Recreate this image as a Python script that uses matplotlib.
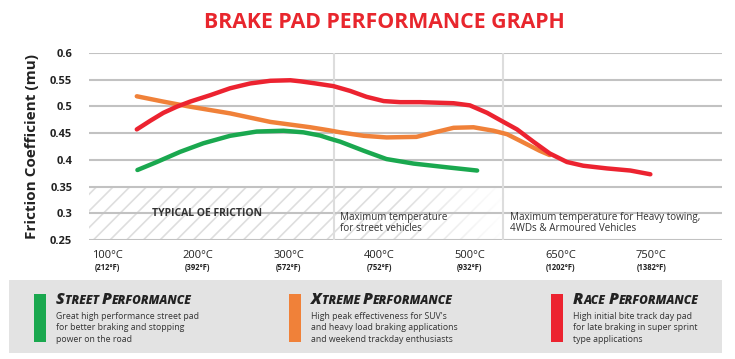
import matplotlib
matplotlib.use("Agg")
import matplotlib.pyplot as plt
from matplotlib.patches import Rectangle
from matplotlib.offsetbox import TextArea, HPacker, AnnotationBbox
import numpy as np

plt.rcParams["font.family"] = ["Open Sans", "DejaVu Sans"]
plt.rcParams["hatch.linewidth"] = 1.2

# category axis
temps_c = ["100°C", "200°C", "300°C", "400°C", "500°C", "650°C", "750°C"]
temps_f = ["(212°F)", "(392°F)", "(572°F)", "(752°F)", "(932°F)", "(1202°F)", "(1382°F)"]
yticks = [0.25, 0.3, 0.35, 0.4, 0.45, 0.5, 0.55, 0.6]

# curves (x in category steps)
street_x = [0.334, 0.548, 0.805, 1.06, 1.356, 1.65, 1.944, 2.165, 2.35, 2.45, 2.57, 2.83, 3.08, 3.38, 3.75, 4.08]
street_y = [0.381, 0.396, 0.415, 0.431, 0.445, 0.453, 0.4545, 0.4515, 0.4455, 0.440, 0.434, 0.417, 0.4015, 0.393,
            0.386, 0.380]

xtreme_x = [0.327, 0.62, 0.915, 1.356, 1.80, 2.24, 2.44, 2.57, 2.83, 3.08, 3.41, 3.6, 3.82, 4.04, 4.26, 4.41,
            4.55, 4.77, 4.88]
xtreme_y = [0.519, 0.509, 0.4995, 0.487, 0.471, 0.461, 0.4555, 0.4515, 0.445, 0.442, 0.443, 0.451, 0.460, 0.461,
            0.4545, 0.448, 0.436, 0.417, 0.409]

race_x = [0.327, 0.474, 0.62, 0.768, 0.915, 1.136, 1.356, 1.577, 1.80, 2.02, 2.13, 2.3, 2.495, 2.68, 2.86, 3.05,
          3.23, 3.45, 3.82, 4.0, 4.19, 4.37, 4.52, 4.70, 4.88, 5.07, 5.25, 5.51, 5.77, 5.99]
race_y = [0.457, 0.473, 0.488, 0.4995, 0.509, 0.521, 0.534, 0.543, 0.548, 0.549, 0.547, 0.543, 0.538, 0.529,
          0.518, 0.510, 0.508, 0.508, 0.506, 0.502, 0.488, 0.471, 0.457, 0.434, 0.412, 0.396, 0.389, 0.384,
          0.380, 0.373]

green = "#1aa84f"
orange = "#f08139"
red = "#ec2330"

names = [["Street", "Performance"], ["Xtreme", "Performance"], ["Race", "Performance"]]
descs = ["Great high performance street pad\nfor better braking and stopping\npower on the road",
         "High peak effectiveness for SUV's\nand heavy load braking applications\nand weekend trackday enthusiasts",
         "High initial bite track day pad\nfor late braking in super sprint\ntype applications"]
colors = [green, orange, red]

W, H = 735, 359
fig = plt.figure(figsize=(W / 100, H / 100), dpi=100)
ax = fig.add_axes([89 / W, 1 - 240 / H, (722 - 89) / W, (240 - 53) / H])
ax.set_xlim(-0.2, 6.78)
ax.set_ylim(0.25, 0.6)
for s in ax.spines.values():
    s.set_visible(False)
ax.set_xticks([])
ax.set_yticks(yticks)
ax.set_yticklabels([("%g" % v) for v in yticks], fontsize=8, fontweight="bold", color="#222222")
ax.tick_params(axis="y", length=0, pad=12)

# hatched "typical OE" band, fading out to the right
ax.fill_between([-0.2, 4.4], 0.25, 0.35, facecolor="none", edgecolor="#dedede", hatch="//", linewidth=0, zorder=1)
grad = np.ones((2, 100, 4))
grad[..., 3] = np.linspace(0, 1, 100)
ax.imshow(grad, extent=[3.2, 4.4, 0.25, 0.35], aspect="auto", zorder=1.5, interpolation="bilinear")

for v in yticks:
    ax.axhline(v, color="#c2c2c2", lw=1.5, zorder=2)
for xv in [2.5, 4.37]:
    ax.axvline(xv, color="#dddddd", lw=1.5, zorder=2)

ax.text(0.5, 0.30, "TYPICAL OE FRICTION", fontsize=7.5, fontweight="bold", color="#333333", va="center", zorder=3)
ax.text(2.57, 0.282, "Maximum temperature\nfor street vehicles", fontsize=7.1, color="#333333", va="center",
        linespacing=1.05, zorder=3)
ax.text(4.44, 0.282, "Maximum temperature for Heavy towing,\n4WDs & Armoured Vehicles", fontsize=7.1,
        color="#333333", va="center", linespacing=1.05, zorder=3)

ax.plot(street_x, street_y, color=green, lw=3.2, solid_capstyle="round", solid_joinstyle="round", zorder=4)
ax.plot(xtreme_x, xtreme_y, color=orange, lw=3.2, solid_capstyle="round", solid_joinstyle="round", zorder=4)
ax.plot(race_x, race_y, color=red, lw=3.2, solid_capstyle="round", solid_joinstyle="round", zorder=5)

for i, (c, f) in enumerate(zip(temps_c, temps_f)):
    ax.text(i, -0.085, c, transform=ax.get_xaxis_transform(), ha="center", va="center",
            fontsize=8, color="#222222")
    ax.text(i, -0.145, f, transform=ax.get_xaxis_transform(), ha="center", va="center",
            fontsize=5.5, fontweight="bold", color="#222222")

ax.set_ylabel("Friction Coefficient (mu)", fontsize=11, fontweight="bold", color="#222222", labelpad=8)

fig.text(384 / W, 1 - 22 / H, "BRAKE PAD PERFORMANCE GRAPH", ha="center", va="center",
         fontsize=15.3, fontweight="bold", color="#e8262d")

# legend panel
fig.add_artist(Rectangle((9 / W, 6 / H), 713 / W, 73 / H, transform=fig.transFigure,
                         facecolor="#e3e3e3", edgecolor="none"))
bar_x = [34, 289, 551]
for bx, nm, d, c in zip(bar_x, names, descs, colors):
    fig.add_artist(Rectangle((bx / W, 1 - 342 / H), 12 / W, 48 / H, transform=fig.transFigure,
                             facecolor=c, edgecolor="none"))
    parts = []
    for k, word in enumerate(nm):
        big = dict(fontsize=11.5, fontweight="heavy", fontstyle="italic", color="#222222")
        small = dict(fontsize=8.6, fontweight="heavy", fontstyle="italic", color="#222222")
        parts.append(TextArea(word[0].upper(), textprops=big))
        rest = word[1:].upper() + (" " if k < len(nm) - 1 else "")
        parts.append(TextArea(rest, textprops=small))
    pack = HPacker(children=parts, align="baseline", pad=0, sep=0)
    ab = AnnotationBbox(pack, ((bx + 22) / W, 1 - 300 / H), xycoords="figure fraction",
                        box_alignment=(0, 0.5), frameon=False, pad=0)
    fig.add_artist(ab)
    fig.text((bx + 22) / W, 1 - 328 / H, d, fontsize=6.3, color="#333333", va="center", linespacing=1.38)

fig.savefig("out.png", dpi=100)
